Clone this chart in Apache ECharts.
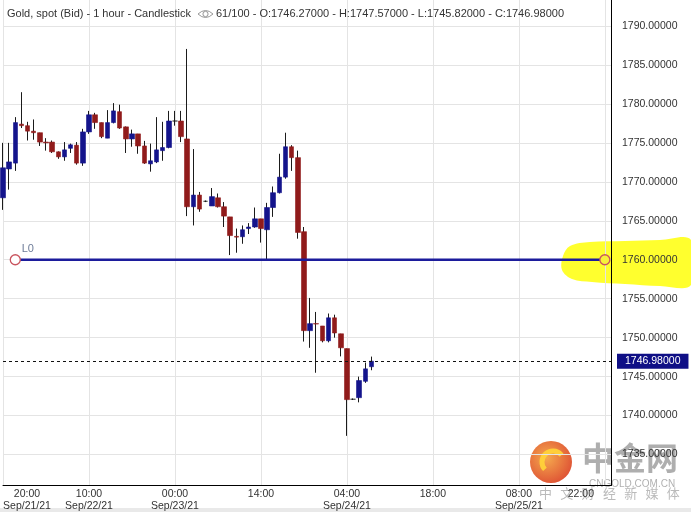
<!DOCTYPE html>
<html><head><meta charset="utf-8">
<script src="https://cdn.jsdelivr.net/npm/echarts@6/dist/echarts.min.js"></script>
<style>html,body{margin:0;padding:0;background:#fff}#c{width:691px;height:512px}</style>
</head><body><div id="c"></div>
<script>
// ---- data ----
const slotCount = 100;           // hourly slots on the x axis
const startHourUTC = Date.UTC(2021, 8, 21, 20);
const opens  = [1767.95,1771.65,1772.4,1777.4,1777.2,1776.5,1776.3,1775.1,1775.1,1773.85,
                1773.2,1774.3,1774.7,1772.4,1776.4,1778.6,1777.6,1775.6,1777.6,1779.0,
                1777.05,1775.5,1776.15,1774.6,1772.3,1772.55,1774.0,1774.4,1777.8,1777.8,
                1775.5,1766.8,1768.3,1767.5,1766.9,1767.95,1766.8,1765.5,1763.0,1762.95,
                1764.0,1764.2,1765.25,1763.85,1766.7,1768.6,1770.6,1774.5,1773.1,1763.6,
                1750.9,1751.8,1751.5,1749.6,1752.55,1750.5,1748.6,1742.1,1742.3,1744.4,
                1746.27];
const closes = [1771.8,1772.55,1777.6,1777.2,1776.5,1776.3,1775.1,1775.0,1773.85,1773.2,
                1774.1,1774.75,1772.4,1776.4,1778.6,1777.6,1775.8,1777.6,1779.1,1776.9,
                1775.5,1776.15,1774.6,1772.4,1772.7,1774.1,1774.4,1777.8,1777.8,1775.8,
                1766.8,1768.3,1766.5,1767.5,1768.1,1766.8,1765.6,1763.1,1762.9,1763.85,
                1764.2,1765.25,1764.0,1766.7,1768.6,1770.6,1774.5,1773.1,1763.5,1750.9,
                1751.8,1751.75,1749.6,1752.55,1750.6,1748.7,1742.05,1742.1,1744.5,1746.0,
                1746.98];
const lows   = [1766.4,1769.0,1771.4,1776.9,1775.3,1775.4,1774.6,1774.0,1773.7,1772.95,
                1772.7,1773.7,1772.2,1772.05,1776.15,1776.8,1775.6,1775.6,1777.5,1776.8,
                1773.7,1774.5,1773.6,1772.3,1771.3,1772.4,1772.7,1774.3,1777.2,1775.1,
                1765.6,1764.4,1766.15,1767.4,1766.9,1766.7,1764.2,1760.6,1760.9,1762.05,
                1763.3,1764.1,1762.2,1760.0,1765.5,1768.5,1770.4,1771.4,1762.7,1749.5,
                1748.7,1745.5,1749.4,1749.4,1750.0,1747.6,1737.4,1742.0,1741.7,1744.2,
                1745.82];
const highs  = [1775.0,1775.0,1778.3,1781.5,1777.7,1778.0,1776.3,1775.6,1775.3,1773.9,
                1775.1,1774.9,1775.1,1776.8,1779.1,1778.85,1777.6,1779.2,1780.1,1779.9,
                1777.1,1776.7,1776.15,1775.25,1774.9,1778.3,1777.7,1779.1,1779.1,1779.1,
                1787.05,1774.2,1768.7,1767.6,1769.2,1768.5,1767.4,1765.5,1764.0,1764.4,
                1764.7,1766.7,1765.25,1767.3,1769.4,1773.6,1776.3,1774.7,1774.0,1764.2,
                1755.1,1753.3,1751.5,1753.1,1752.95,1750.5,1748.6,1742.2,1745.0,1746.8,
                1747.57];
const tickIndex = [0, 14, 28, 42, 56, 70, 84, 98];
const tickTime  = ['20:00','10:00','00:00','14:00','04:00','18:00','08:00','22:00'];
const tickDate  = ['Sep/21/21','Sep/22/21','Sep/23/21','','Sep/24/21','','Sep/25/21',''];
const yTicks = [1735,1740,1745,1750,1755,1760,1765,1770,1775,1780,1785,1790];
const yMin = 1731.03, yMax = 1793.33;
const levelName = 'L0', levelValue = 1760, levelFrom = 2, levelTo = 98;
const lastPrice = 1746.98;
const headerTitle = 'Gold, spot (Bid) - 1 hour - Candlestick';
const headerCount = '61/100';
const ohlcLast = {O: 1746.27, H: 1747.57, L: 1745.82, C: 1746.98};
const watermarkTagline = ['中','文','财','经','新','媒','体'];

// ---- build ----
const categories = [];
for (let i = 0; i < slotCount; i++) {
  const d = new Date(startHourUTC + i * 3600e3);
  categories.push(d.toISOString().slice(0, 13).replace('T', ' ') + ':00');
}
const wickData = opens.map((o, i) => [o, closes[i], lows[i], highs[i]]);
const bodyData = opens.map((o, i) => [o, closes[i], Math.min(o, closes[i]), Math.max(o, closes[i])]);

const FONT = 'Liberation Sans, Arial, sans-serif';
const UP = '#14148c', DOWN = '#901b1b';
const headerRest = headerCount + ' - O:' + ohlcLast.O.toFixed(5) + ' - H:' + ohlcLast.H.toFixed(5) +
  ' - L:' + ohlcLast.L.toFixed(5) + ' - C:' + ohlcLast.C.toFixed(5);

const chart = echarts.init(document.getElementById('c'), null, {renderer: 'canvas'});
const showTick = (i) => tickIndex.indexOf(i) >= 0;

const taglineEls = watermarkTagline.map((ch, k) => ({
  type: 'text', x: 539 + k * 21.3, y: 487,
  style: {text: ch, fill: 'rgba(140,140,140,0.6)', font: '13px "Noto Sans CJK SC", sans-serif'}
}));

chart.setOption({
  animation: false,
  backgroundColor: '#fff',
  grid: {left: 0, right: 80, top: 0, bottom: 26, containLabel: false},
  xAxis: {
    type: 'category', data: categories, boundaryGap: false,
    axisLine: {show: true, lineStyle: {color: '#000', width: 1}},
    axisTick: {show: false},
    axisLabel: {
      interval: (i) => showTick(i),
      formatter: (v, i) => {
        const k = tickIndex.indexOf(i);
        if (k < 0) return '';
        return tickDate[k] ? '{f|' + tickTime[k] + '}\n{f|' + tickDate[k] + '}' : '{f|' + tickTime[k] + '}';
      },
      rich: {f: {width: 48, align: 'center', fontSize: 10.5, fontFamily: FONT, color: '#333', lineHeight: 12}},
      color: '#333', fontSize: 10.5, fontFamily: FONT, margin: 3,
      alignMinLabel: 'left', alignMaxLabel: 'right'
    },
    splitLine: {show: true, interval: (i) => showTick(i), lineStyle: {color: '#e4e4e4', width: 1}}
  },
  yAxis: {
    type: 'value', position: 'right', min: yMin, max: yMax,
    axisLine: {show: true, lineStyle: {color: '#000', width: 1}},
    axisTick: {show: false, customValues: yTicks},
    axisLabel: {customValues: yTicks, formatter: (v) => Number(v).toFixed(5), color: '#333',
                fontSize: 10.5, fontFamily: FONT, margin: 11},
    splitLine: {show: true, lineStyle: {color: '#e4e4e4', width: 1}}
  },
  series: [
    {
      type: 'candlestick', name: 'wick', data: wickData, barWidth: 1, z: 2,
      itemStyle: {color: '#1b1b1b', color0: '#1b1b1b', borderColor: '#1b1b1b', borderColor0: '#1b1b1b',
                  borderColorDoji: '#1b1b1b', borderWidth: 1}
    },
    {
      type: 'candlestick', name: 'body', data: bodyData, barWidth: 5, z: 3,
      itemStyle: {color: UP, color0: DOWN, borderColor: UP, borderColor0: DOWN,
                  borderColorDoji: '#1b1b1b', borderWidth: 0.6},
      markLine: {
        silent: true, symbol: ['none', 'none'], animation: false,
        lineStyle: {type: [3, 3], color: '#111', width: 1},
        label: {show: true, position: 'end', distance: 6, formatter: () => lastPrice.toFixed(5),
                color: '#fff', backgroundColor: '#0f0f86', padding: [2, 8, 2, 8],
                fontSize: 10.5, fontFamily: FONT},
        data: [{yAxis: lastPrice}]
      }
    },
    {
      type: 'line', name: levelName, z: 4,
      data: [
        {value: [levelFrom, levelValue], itemStyle: {color: '#fff'},
         label: {show: true, formatter: levelName, position: [12, -11], align: 'left', verticalAlign: 'top',
                 color: '#6d7b98', fontSize: 11, fontFamily: FONT}},
        {value: [levelTo, levelValue], itemStyle: {color: '#f7f23a'}}
      ],
      symbol: 'circle', symbolSize: 10, showAllSymbol: true,
      itemStyle: {borderColor: '#c9545e', borderWidth: 1.3},
      lineStyle: {color: '#1c1c9c', width: 2.6},
      emphasis: {disabled: true},
      label: {show: false}
    }
  ],
  graphic: [
    // yellow highlighter stroke around the level label
    {type: 'polygon', z: -1, silent: true,
     shape: {smooth: 0.35, points: [[563,256],[570,246],[590,242],[625,241],[660,240],[691,240],[691,285],
                                   [660,286],[625,284],[592,282],[572,279],[562,270]]},
     style: {fill: '#ffff2e'}},
    // header
    {type: 'text', left: 7, top: 8, z: 10, silent: true,
     style: {text: headerTitle, fill: '#333', font: '11px ' + FONT}},
    {type: 'group', z: 10, silent: true, children: [
      {type: 'bezierCurve', shape: {x1: 198, y1: 14, x2: 213, y2: 14, cpx1: 205.5, cpy1: 7},
       style: {stroke: '#999', lineWidth: 1, fill: null}},
      {type: 'bezierCurve', shape: {x1: 198, y1: 14, x2: 213, y2: 14, cpx1: 205.5, cpy1: 21},
       style: {stroke: '#999', lineWidth: 1, fill: null}},
      {type: 'circle', shape: {cx: 205.5, cy: 14, r: 2.6}, style: {stroke: '#999', lineWidth: 1, fill: null}}
    ]},
    {type: 'text', left: 216, top: 8, z: 10, silent: true,
     style: {text: headerRest, fill: '#333', font: '11px ' + FONT}},
    // watermark
    {type: 'group', z: 20, silent: true, children: [
      {type: 'circle', shape: {cx: 551, cy: 462, r: 21},
       style: {fill: new echarts.graphic.RadialGradient(0.4, 0.4, 0.7, [{offset: 0, color: '#f4a03a'}, {offset: 1, color: '#d9381c'}]), opacity: 0.9}},
      {type: 'arc', shape: {cx: 553, cy: 462, r: 11, startAngle: 2.4, endAngle: 5.6},
       style: {stroke: '#ffd23a', lineWidth: 5, fill: null, opacity: 0.95}},
      {type: 'text', x: 582, y: 442, style: {text: '中金网', fill: 'rgba(125,125,125,0.62)',
       font: 'bold 32px "Noto Sans CJK SC", sans-serif'}},
      {type: 'text', x: 589, y: 479, style: {text: 'CNGOLD.COM.CN', fill: 'rgba(150,150,150,0.75)',
       font: '10px ' + FONT}}
    ].concat(taglineEls)},
    // bottom border strip
    {type: 'rect', z: 0, silent: true, shape: {x: 0, y: 508, width: 691, height: 4}, style: {fill: '#e9e9e9'}}
  ]
});
</script>
</body></html>
